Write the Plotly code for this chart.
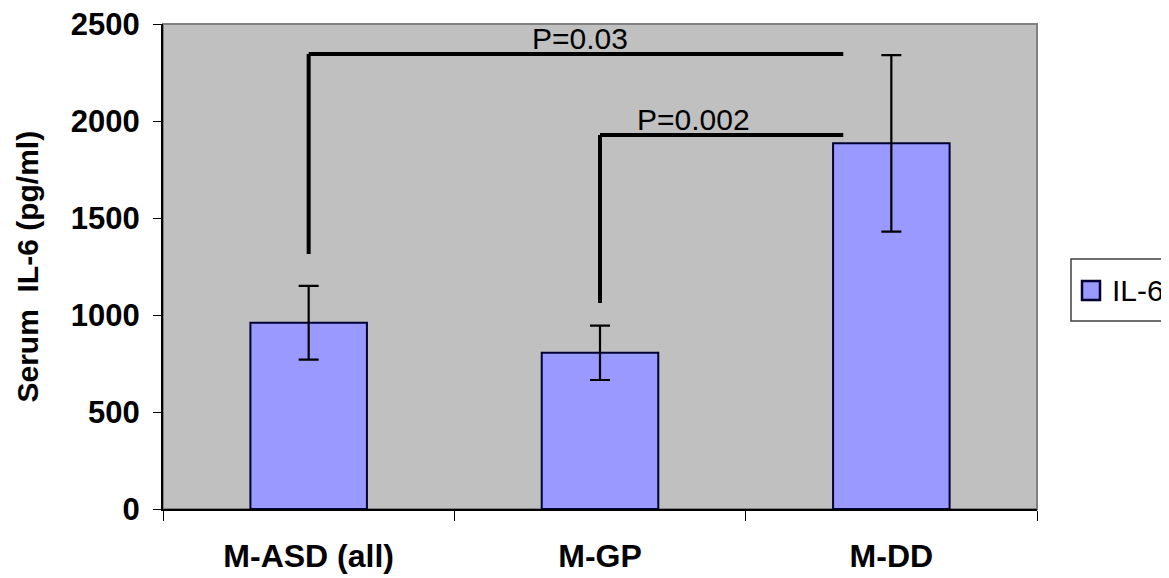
import plotly.graph_objects as go

# ---- data ----
categories = ["M-ASD (all)", "M-GP", "M-DD"]
il6_mean = [960, 805, 1885]
il6_err = [190, 140, 455]
series_name = "IL-6"

# significance brackets
bracket_start = [0, 1]
bracket_end = [1.835, 1.835]
bracket_top = [2345, 1928]
bracket_leg_bottom = [1314, 1062]
bracket_labels = ["P=0.03", "P=0.002"]
label_x = [0.93, 1.32]
label_y = [2425, 2010]

y_ticks = [0, 500, 1000, 1500, 2000, 2500]
y_title = "Serum  IL-6 (pg/ml)"

FONT = "Liberation Sans, Arial, sans-serif"
OFF = 8  # page body margin offset
W, H = 1169 - OFF, 578 - OFF
# target pixel positions in the window
L, R, T, B = 163, 1037, 24, 509
PW, PH = R - L, B - T


def px_x(p):
    return (p - L) / PW


def px_y(p):
    return (B - p) / PH


fig = go.Figure()
fig.add_trace(go.Bar(
    x=categories, y=il6_mean, name=series_name, width=0.4,
    marker=dict(color="#9999FF", line=dict(color="#000033", width=2)),
    error_y=dict(type="data", array=il6_err, visible=True, color="#000000",
                 thickness=2.2, width=10),
    showlegend=False,
))

shapes = []
shapes.append(dict(type="rect", xref="paper", yref="paper", x0=0, x1=1, y0=0, y1=1,
                   line=dict(color="#808080", width=2), layer="below"))
for xs, xe, yt, yb in zip(bracket_start, bracket_end, bracket_top, bracket_leg_bottom):
    shapes.append(dict(type="line", xref="x", yref="y", x0=xs, x1=xs, y0=yb, y1=yt,
                       line=dict(color="black", width=4)))
    shapes.append(dict(type="line", xref="x", yref="y", x0=xs, x1=xe, y0=yt, y1=yt,
                       line=dict(color="black", width=4)))

annotations = []
for lx, ly, lab in zip(label_x, label_y, bracket_labels):
    annotations.append(dict(x=lx, y=ly, xref="x", yref="y", text=lab, showarrow=False,
                            font=dict(family=FONT, size=30, color="black")))

# y axis title
annotations.append(dict(x=px_x(27), y=0.5, xref="paper", yref="paper", text=y_title,
                        textangle=-90, showarrow=False, xanchor="center", yanchor="middle",
                        font=dict(family=FONT, size=30, color="black", weight="bold")))

# manual legend (boxed)
shapes.append(dict(type="rect", xref="paper", yref="paper",
                   x0=px_x(1071), x1=px_x(1190), y0=px_y(321), y1=px_y(259),
                   line=dict(color="#404040", width=1.5), fillcolor="white"))
shapes.append(dict(type="rect", xref="paper", yref="paper",
                   x0=px_x(1082), x1=px_x(1100), y0=px_y(300), y1=px_y(281),
                   line=dict(color="#000033", width=2.5), fillcolor="#9999FF"))
annotations.append(dict(x=px_x(1110), y=px_y(290), xref="paper", yref="paper",
                        text=series_name, showarrow=False, xanchor="left", yanchor="middle",
                        font=dict(family=FONT, size=30, color="black")))

fig.update_layout(
    width=W, height=H,
    margin=dict(l=L - OFF, r=1169 - R, t=T - OFF, b=578 - B, autoexpand=False),
    paper_bgcolor="white", plot_bgcolor="#C0C0C0",
    font=dict(family=FONT, color="black"),
    bargap=0.6,
    shapes=shapes, annotations=annotations,
    showlegend=False,
)
fig.update_xaxes(
    type="category", showline=True, linecolor="black", linewidth=2,
    ticks="outside", tickson="boundaries", ticklen=10, tickcolor="black", tickwidth=1,
    tickfont=dict(family=FONT, size=32, color="black", weight="bold"),
    ticklabelstandoff=18, showgrid=False, zeroline=False, automargin=False,
    ticklabeloverflow="allow",
)
fig.update_yaxes(
    range=[0, 2500], tickvals=y_ticks, showline=True, linecolor="black", linewidth=2,
    ticks="outside", ticklen=8, tickcolor="black", tickwidth=1,
    tickfont=dict(family=FONT, size=31, color="black", weight="bold"),
    ticklabelstandoff=7,
    showgrid=False, zeroline=False, automargin=False,
    ticklabeloverflow="allow",
)

fig.write_html("out.html")
